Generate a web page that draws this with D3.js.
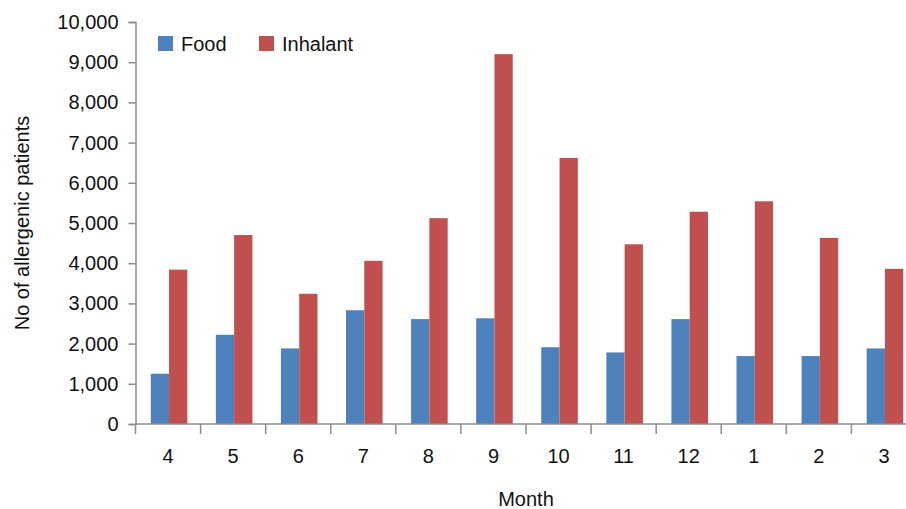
<!DOCTYPE html>
<html>
<head>
<meta charset="utf-8">
<script src="https://cdn.jsdelivr.net/npm/d3@7/dist/d3.min.js"></script>
<style>
  html, body { margin: 0; padding: 0; background: #ffffff; }
  svg { display: block; font-family: "Liberation Sans", Arial, sans-serif; }
</style>
</head>
<body>
<svg id="chart" width="906" height="509"></svg>
<script>
// Monthly allergenic patient counts, April through March
const months = ["4", "5", "6", "7", "8", "9", "10", "11", "12", "1", "2", "3"];
const seriesNames = ["Food", "Inhalant"];
const food = [1250, 2220, 1880, 2830, 2610, 2630, 1910, 1780, 2610, 1690, 1690, 1880];
const inhalant = [3840, 4700, 3240, 4060, 5120, 9200, 6620, 4470, 5280, 5540, 4630, 3860];
const yTicks = [0, 1000, 2000, 3000, 4000, 5000, 6000, 7000, 8000, 9000, 10000];
const colors = ["#4F81BD", "#C0504D"];

(function () {
  const svg = d3.select("#chart");
  const plotLeft = 135.5, plotRight = 916.5, plotTop = 22, plotBottom = 424;
  const axisColor = "#8c8c8c";
  const textColor = "#111111";
  const fontSize = 20;

  const rows = months.map((m, i) => ({ month: m, values: [food[i], inhalant[i]] }));

  const x0 = d3.scaleBand().domain(months).range([plotLeft, plotRight]).padding(0);
  const x1 = d3.scaleBand().domain(seriesNames).range([0, x0.bandwidth()])
    .paddingInner(0).paddingOuter(0.78);
  const y = d3.scaleLinear().domain([0, 10000]).range([plotBottom, plotTop]);

  // Bars
  const groups = svg.append("g").selectAll("g").data(rows).join("g")
    .attr("transform", d => `translate(${x0(d.month) + 1},0)`);
  groups.selectAll("rect")
    .data(d => d.values.map((v, k) => ({ key: seriesNames[k], value: v, k })))
    .join("rect")
    .attr("x", d => x1(d.key))
    .attr("y", d => y(d.value))
    .attr("width", x1.bandwidth())
    .attr("height", d => y(0) - y(d.value))
    .attr("fill", d => colors[d.k]);

  // Y axis
  const yAxis = d3.axisLeft(y).tickValues(yTicks).tickFormat(d3.format(","))
    .tickSizeOuter(0).tickSize(7).tickPadding(10);
  const gy = svg.append("g").attr("transform", `translate(${plotLeft},0)`).call(yAxis);
  gy.select(".domain").attr("stroke", axisColor).attr("stroke-width", 1.5);
  gy.selectAll(".tick line").attr("stroke", axisColor).attr("stroke-width", 1.5);
  gy.selectAll(".tick text").attr("fill", textColor).style("font-size", fontSize + "px")
    .style("font-family", "'Liberation Sans', Arial, sans-serif");

  // X axis with ticks at category boundaries
  const gx = svg.append("g").attr("transform", `translate(0,${plotBottom})`);
  gx.append("line").attr("x1", plotLeft).attr("x2", plotRight).attr("y1", 0).attr("y2", 0)
    .attr("stroke", axisColor).attr("stroke-width", 1.5);
  const boundaries = months.map(m => x0(m)).concat([x0(months[months.length - 1]) + x0.bandwidth()]);
  gx.selectAll("line.b").data(boundaries).join("line").attr("class", "b")
    .attr("x1", d => d).attr("x2", d => d).attr("y1", 0).attr("y2", 10)
    .attr("stroke", axisColor).attr("stroke-width", 1.5);
  gx.selectAll("text").data(months).join("text")
    .attr("x", d => x0(d) + x0.bandwidth() / 2)
    .attr("y", 39)
    .attr("text-anchor", "middle")
    .attr("fill", textColor)
    .style("font-size", fontSize + "px")
    .text(d => d);

  // Axis titles
  svg.append("text")
    .attr("x", (plotLeft + plotRight) / 2).attr("y", 506)
    .attr("text-anchor", "middle").attr("fill", textColor)
    .style("font-size", fontSize + "px")
    .text("Month");
  svg.append("text")
    .attr("transform", `translate(29,${(plotTop + plotBottom) / 2}) rotate(-90)`)
    .attr("text-anchor", "middle").attr("fill", textColor)
    .style("font-size", fontSize + "px")
    .text("No of allergenic patients");

  // Legend
  const legendX = [158, 259];
  const legend = svg.append("g").selectAll("g").data(seriesNames).join("g")
    .attr("transform", (d, i) => `translate(${legendX[i]},36)`);
  legend.append("rect").attr("width", 15).attr("height", 15).attr("fill", (d, i) => colors[i]);
  legend.append("text").attr("x", 23).attr("y", 14.5).attr("fill", textColor)
    .style("font-size", fontSize + "px").text(d => d);
})();
</script>
</body>
</html>
